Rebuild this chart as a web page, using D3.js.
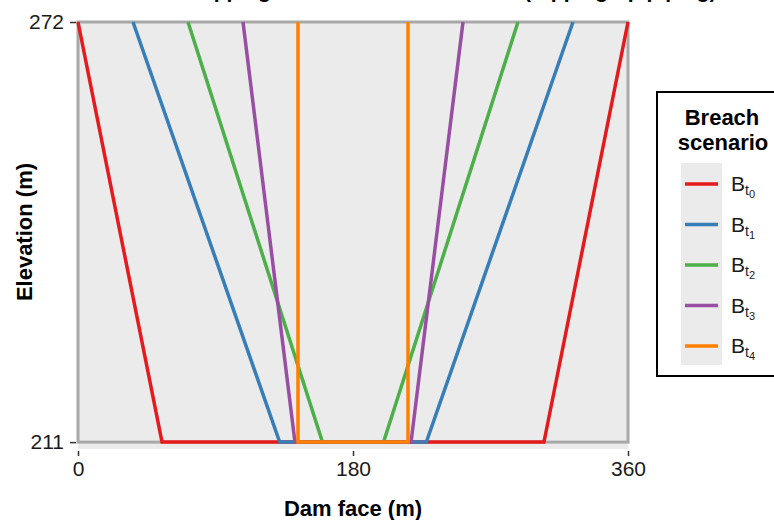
<!DOCTYPE html>
<html>
<head>
<meta charset="utf-8">
<script src="https://cdn.jsdelivr.net/npm/d3@7"></script>
<style>
  body { margin: 0; background: #fff; }
  svg { display: block; font-family: "Liberation Sans", Arial, sans-serif; }
</style>
</head>
<body>
<svg id="chart" width="774" height="520"></svg>
<script>
// breach scenarios: trapezoid corners along the dam face (m)
const scenarios = ['0', '1', '2', '3', '4'];
const topLeft = [0, 36, 72, 108, 144];
const bottomLeft = [55, 132, 160, 142, 144];
const bottomRight = [305, 228, 200, 218, 216];
const topRight = [360, 324, 288, 252, 216];
const crest = 272;
const base = 211;
const damLength = 360;
const xTicks = [0, 180, 360];
const yTicks = [211, 272];
const colors = ['#E41A1C', '#377EB8', '#4DAF4A', '#984EA3', '#FF7F00'];

const svg = d3.select('#chart');
const margin = { left: 78, right: 146, top: 22, bottom: 71 };
const W = 774, H = 520;

const x = d3.scaleLinear().domain([0, damLength]).range([margin.left, W - margin.right]);
const y = d3.scaleLinear().domain([210, crest]).range([H - margin.bottom, margin.top]);

// panel
svg.append('rect')
  .attr('x', x(0)).attr('y', y(crest))
  .attr('width', x(damLength) - x(0))
  .attr('height', y(210) - y(crest))
  .attr('fill', '#EBEBEB');

// dam outline
svg.append('rect')
  .attr('x', x(0)).attr('y', y(crest))
  .attr('width', x(damLength) - x(0))
  .attr('height', y(base) - y(crest))
  .attr('fill', 'none')
  .attr('stroke', '#A8A8A8')
  .attr('stroke-width', 3);

const line = d3.line().x(d => x(d[0])).y(d => y(d[1]));

scenarios.forEach((s, i) => {
  const pts = [
    [topLeft[i], crest],
    [bottomLeft[i], base],
    [bottomRight[i], base],
    [topRight[i], crest]
  ];
  svg.append('path')
    .attr('d', line(pts))
    .attr('fill', 'none')
    .attr('stroke', colors[i])
    .attr('stroke-width', 3.5)
    .attr('stroke-linejoin', 'miter');
});

// axes
const xAxis = svg.append('g')
  .attr('transform', `translate(0,${y(210) + 2})`)
  .call(d3.axisBottom(x).tickValues(xTicks).tickSize(5).tickPadding(3).tickFormat(d3.format('d')));
const yAxis = svg.append('g')
  .attr('transform', `translate(${x(0) - 2},0)`)
  .call(d3.axisLeft(y).tickValues(yTicks).tickSize(6).tickPadding(6).tickFormat(d3.format('d')));

[xAxis, yAxis].forEach(a => {
  a.select('.domain').remove();
  a.selectAll('.tick line').attr('stroke', '#333').attr('stroke-width', 1.5);
  a.selectAll('.tick text').attr('fill', '#1a1a1a').style('font-size', '21px')
    .style('font-family', '"Liberation Sans", Arial, sans-serif');
});
xAxis.selectAll('.tick text').attr('dy', '0.8em');

// axis titles
svg.append('text')
  .attr('x', (x(0) + x(damLength)) / 2).attr('y', 516)
  .attr('text-anchor', 'middle')
  .style('font-size', '22px').style('font-weight', 'bold')
  .text('Dam face (m)');

svg.append('text')
  .attr('transform', `translate(32,${(y(crest) + y(base)) / 2}) rotate(-90)`)
  .attr('text-anchor', 'middle')
  .style('font-size', '22px').style('font-weight', 'bold')
  .text('Elevation (m)');

// title (cut at top edge)
svg.append('text')
  .attr('x', 146).attr('y', -2)
  .style('font-size', '21px').style('font-weight', 'bold')
  .text('Overtopping breach evolution in time (topping-up piping)');

// legend
const lg = svg.append('g');
lg.append('rect')
  .attr('x', 657).attr('y', 92)
  .attr('width', 140).attr('height', 284)
  .attr('fill', '#fff').attr('stroke', '#000').attr('stroke-width', 2);
lg.append('text').attr('x', 722).attr('y', 125).attr('text-anchor', 'middle')
  .style('font-size', '22px').style('font-weight', 'bold').text('Breach');
lg.append('text').attr('x', 723).attr('y', 150).attr('text-anchor', 'middle')
  .style('font-size', '22px').style('font-weight', 'bold').text('scenario');
lg.append('rect')
  .attr('x', 681).attr('y', 163).attr('width', 41).attr('height', 202)
  .attr('fill', '#EBEBEB');

const keyY = d3.scalePoint().domain(scenarios).range([184, 346]);
scenarios.forEach((s, i) => {
  const ky = keyY(s);
  lg.append('line')
    .attr('x1', 685).attr('x2', 718)
    .attr('y1', ky).attr('y2', ky)
    .attr('stroke', colors[i]).attr('stroke-width', 3.5);
  const t = lg.append('text').attr('x', 731).attr('y', ky + 7)
    .style('font-size', '21px').attr('fill', '#1a1a1a');
  t.append('tspan').text('B');
  t.append('tspan').attr('dy', 4).style('font-size', '14px').text('t');
  t.append('tspan').attr('dy', 3).style('font-size', '11px').text(s);
});
</script>
</body>
</html>
